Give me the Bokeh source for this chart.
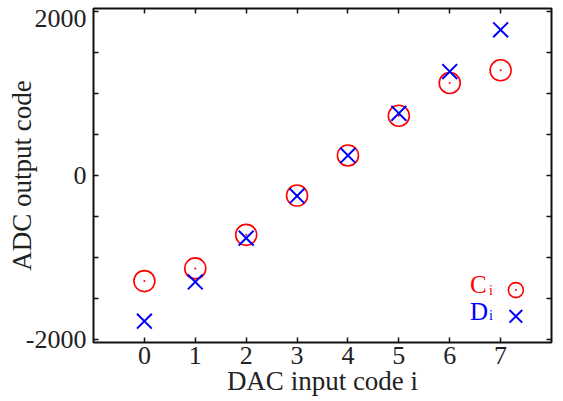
from bokeh.plotting import figure
from bokeh.models import LinearAxis, FixedTicker, Label, Range1d, CustomJSTickFormatter
from bokeh.embed import file_html
from bokeh.resources import INLINE

# data
codes = [0, 1, 2, 3, 4, 5, 6, 7]
c_vals = [-1290, -1135, -725, -245, 245, 730, 1130, 1285]
d_vals = [-1780, -1300, -765, -250, 245, 760, 1270, 1780]
x_ticks = [0, 1, 2, 3, 4, 5, 6, 7]
y_ticks = [-2000, -1500, -1000, -500, 0, 500, 1000, 1500, 2000]
y_label_vals = [-2000, 0, 2000]
y_tick_labels = ["-2000", "0", "2000"]
x_label = "DAC input code i"
y_label = "ADC output code"

FONT = "Liberation Serif"
RED = "#ff0000"
BLUE = "#0000ff"
INK = "#222222"

p = figure(width=563, height=401, x_range=Range1d(-1, 8), y_range=Range1d(-2040, 2040),
           output_backend="svg", toolbar_location=None,
           x_axis_location=None, y_axis_location=None,
           min_border_left=93, min_border_right=12, min_border_top=8, min_border_bottom=59)
p.xgrid.visible = False
p.ygrid.visible = False
p.outline_line_color = "#111111"
p.outline_line_width = 2
p.background_fill_color = "white"
p.border_fill_color = "white"

blank = CustomJSTickFormatter(code="return ''")
plain = CustomJSTickFormatter(code="return tick.toString()")

def style(ax, labels=True, standoff=5, ticks=True):
    ax.axis_line_color = None
    ax.major_tick_in = 5 if ticks else 0
    ax.major_tick_out = 0
    ax.minor_tick_in = 0
    ax.minor_tick_out = 0
    ax.major_tick_line_color = "#111111" if ticks else None
    ax.minor_tick_line_color = None
    ax.major_tick_line_width = 1.5
    if labels:
        ax.formatter = plain
        ax.major_label_text_font = FONT
        ax.major_label_text_font_size = "26px"
        ax.major_label_text_color = INK
        ax.major_label_standoff = standoff
        ax.axis_label_text_font = FONT
        ax.axis_label_text_font_size = "27px"
        ax.axis_label_text_font_style = "normal"
        ax.axis_label_text_color = INK
    else:
        ax.formatter = blank
        ax.major_label_standoff = 0

# left: inner axis draws the ticks, outer axis carries the labels
left_ticks = LinearAxis(ticker=FixedTicker(ticks=y_ticks, minor_ticks=[]))
style(left_ticks, False)
p.add_layout(left_ticks, "left")

# the top label sits slightly below its tick (as in the original), so it is anchored a bit lower
label_pos = [y_label_vals[0], y_label_vals[1], y_label_vals[2] - 85]
left_labels = LinearAxis(ticker=FixedTicker(ticks=label_pos, minor_ticks=[]), axis_label=y_label)
style(left_labels, True, 7, ticks=False)
left_labels.major_label_overrides = {float(v): t for v, t in zip(label_pos, y_tick_labels)}
left_labels.axis_label_standoff = -14
p.add_layout(left_labels, "left")

right = LinearAxis(ticker=FixedTicker(ticks=y_ticks, minor_ticks=[]))
style(right, False)
p.add_layout(right, "right")

bottom = LinearAxis(ticker=FixedTicker(ticks=x_ticks, minor_ticks=[]), axis_label=x_label)
style(bottom, True, 4)
bottom.axis_label_standoff = -1
p.add_layout(bottom, "below")
top = LinearAxis(ticker=FixedTicker(ticks=x_ticks, minor_ticks=[]))
style(top, False)
p.add_layout(top, "above")

# data markers
p.scatter(codes, c_vals, marker="circle", size=21, line_color=RED, fill_color=None, line_width=1.6)
p.scatter(codes, c_vals, marker="circle", size=2, line_color=None, fill_color=RED)
p.scatter(codes, d_vals, marker="x", size=21, line_color=BLUE, line_width=2)

# legend (label left of symbol)
LEG_X = 7.3
LEG_Y = [-1400, -1720]
p.scatter([LEG_X], [LEG_Y[0]], marker="circle", size=15, line_color=RED, fill_color=None, line_width=1.6)
p.scatter([LEG_X], [LEG_Y[0]], marker="circle", size=2, line_color=None, fill_color=RED)
p.scatter([LEG_X], [LEG_Y[1]], marker="x", size=18, line_color=BLUE, line_width=2)
p.add_layout(Label(x=LEG_X, y=LEG_Y[0], x_offset=-46, y_offset=6, text="C", text_font=FONT,
                   text_font_size="25px", text_color=RED, text_baseline="alphabetic"))
p.add_layout(Label(x=LEG_X, y=LEG_Y[0], x_offset=-27, y_offset=0, text="i", text_font=FONT,
                   text_font_size="14px", text_color=RED, text_baseline="alphabetic"))
p.add_layout(Label(x=LEG_X, y=LEG_Y[1], x_offset=-46, y_offset=5, text="D", text_font=FONT,
                   text_font_size="25px", text_color=BLUE, text_baseline="alphabetic"))
p.add_layout(Label(x=LEG_X, y=LEG_Y[1], x_offset=-27, y_offset=1, text="i", text_font=FONT,
                   text_font_size="14px", text_color=BLUE, text_baseline="alphabetic"))

open("out.html", "w").write(file_html(p, INLINE))
